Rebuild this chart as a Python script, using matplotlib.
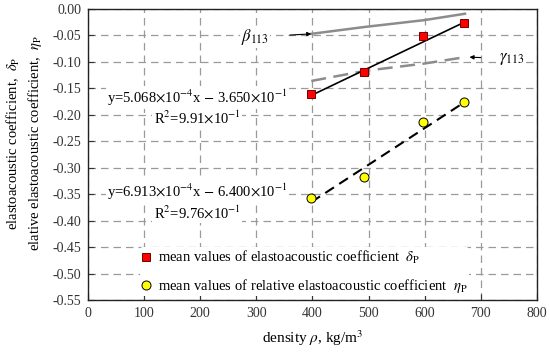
import matplotlib.pyplot as plt
import numpy as np

plt.rcParams['font.family'] = ['Liberation Serif', 'DejaVu Serif']
plt.rcParams['mathtext.fontset'] = 'stix'

# measured points
rho = [397, 492, 598, 671]
delta_p = [-0.161, -0.119, -0.051, -0.026]
eta_p = [-0.357, -0.318, -0.213, -0.176]

# theoretical curves
rho_theory = [398, 493, 600, 672]
beta_113 = [-0.047, -0.034, -0.021, -0.009]
gamma_113 = [-0.136, -0.117, -0.103, -0.091]

# linear fits (from the chart's equations)
fit_delta = (5.068e-4, -3.650e-1)
fit_eta = (6.913e-4, -6.400e-1)
fit_x = [398, 672]

xticks = [0, 100, 200, 300, 400, 500, 600, 700, 800]
yticks = np.arange(-0.55, 0.001, 0.05)

fig = plt.figure(figsize=(5.5, 3.59), dpi=100)
ax = fig.add_axes([0.16, 0.164, 0.816, 0.811])

ax.plot(rho_theory, beta_113, color='#8c8c8c', lw=1.8, zorder=2)
ax.plot(rho_theory, gamma_113, color='#8c8c8c', lw=1.8, ls=(0, (6, 3)), zorder=2)

fx = np.array(fit_x)
ax.plot(fx, fit_delta[0] * fx + fit_delta[1], color='black', lw=1.2, zorder=3)
ax.plot(fx, fit_eta[0] * fx + fit_eta[1], color='black', lw=1.5, ls=(0, (5, 3)), zorder=3)

ax.plot(rho, delta_p, ls='none', marker='s', ms=5.5, mfc='red', mec='#700000', mew=0.7,
        zorder=4, label=r'mean values of elastoacoustic coefficient  $\delta_{\rm P}$')
ax.plot(rho, eta_p, ls='none', marker='o', ms=6.5, mfc='#ffff00', mec='black', mew=0.7,
        zorder=4, label=r'mean values of relative elastoacoustic coefficient  $\eta_{\rm P}$')

ax.set_xlim(0, 800)
ax.set_ylim(-0.55, 0.0)
ax.set_xticks(xticks)
ax.set_yticks(yticks)
ax.set_yticklabels(['%.2f' % v for v in yticks])
ax.grid(True, color='#9a9a9a', ls=(0, (6, 4)), lw=0.9)
ax.set_axisbelow(True)
ax.tick_params(direction='in', length=4, labelsize=10, colors='#333333', labelcolor='#333333', pad=5)
for s in ax.spines.values():
    s.set_linewidth(1.0)
    s.set_color('#222222')
    s.set_zorder(6)

ax.set_xlabel(r'density $\rho$, kg/m$^3$', fontsize=11, labelpad=6)
ax.set_ylabel('elastoacoustic coefficient,  $\\delta_{\\rm P}$\n'
              'elative elastoacoustic coefficient,  $\\eta_{\\rm P}$',
              fontsize=10.5, linespacing=1.35)
ax.yaxis.set_label_coords(-0.097, 0.54)

box = dict(facecolor='white', edgecolor='none', pad=1)
ax.text(195, -0.167, r'y=5.068$\times$10$^{-4}$x $-$ 3.650$\times$10$^{-1}$', fontsize=10.5,
        ha='center', va='center', bbox=box)
ax.text(195, -0.207, r'R$^2$=9.91$\times$10$^{-1}$', fontsize=10.5, ha='center', va='center', bbox=box)
ax.text(195, -0.345, r'y=6.913$\times$10$^{-4}$x $-$ 6.400$\times$10$^{-1}$', fontsize=10.5,
        ha='center', va='center', bbox=box)
ax.text(195, -0.385, r'R$^2$=9.76$\times$10$^{-1}$', fontsize=10.5, ha='center', va='center', bbox=box)

ax.annotate(r'$\beta_{113}$', xy=(398, -0.047), xytext=(298, -0.053), fontsize=12,
            ha='center', va='center', bbox=box,
            arrowprops=dict(arrowstyle='-|>', color='black', lw=0.8, mutation_scale=6,
                            shrinkA=14, shrinkB=0))
ax.annotate(r'$\gamma_{113}$', xy=(680, -0.091), xytext=(755, -0.094), fontsize=12,
            ha='center', va='center', bbox=box,
            arrowprops=dict(arrowstyle='-|>', color='black', lw=0.8, mutation_scale=6,
                            shrinkA=12, shrinkB=0))

leg = ax.legend(loc='lower left', bbox_to_anchor=(0.1, -0.012), frameon=True, fontsize=10.5,
                handlelength=0.6, handletextpad=0.5, labelspacing=0.75, borderpad=0.1)
leg.get_frame().set_edgecolor('none')
leg.get_frame().set_facecolor('white')
leg.get_frame().set_alpha(1)

fig.savefig('out.png', dpi=100)
